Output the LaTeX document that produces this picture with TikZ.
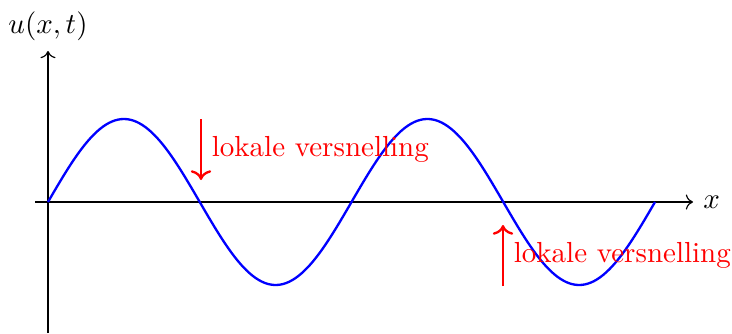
\documentclass[tikz,border=0pt]{standalone}
\usetikzlibrary{arrows.meta}
\begin{document}
\begin{tikzpicture}[x=0.3448pt,y=-0.3448pt,
  axis/.style={->},
  wave/.style={blue,thick},
  accel/.style={->,red,thick},
  lbl/.style={red,right}]
\useasboundingbox (0,0) rectangle (732,333);
\coordinate (xs) at (35,202);
\coordinate (xe) at (693,202);
\coordinate (ys) at (48,333);
\coordinate (ye) at (48,51);
\draw[axis] (xs) -- (xe) node[right] (xl) {$x$};
\draw[axis] (ys) -- (ye) node[above] (yl) {$u(x,t)$};
\draw[wave] plot[domain=48:655,samples=200,smooth] (\x,{202-83*sin(1.186161*(\x-48))});
\coordinate (a1s) at (201,119);
\coordinate (a1e) at (201,180);
\coordinate (a2s) at (503,286);
\coordinate (a2e) at (503,225);
\draw[accel] (a1s) -- (a1e) node[midway,lbl] (l1) {lokale versnelling};
\draw[accel] (a2s) -- (a2e) node[midway,lbl] (l2) {lokale versnelling};
\end{tikzpicture}
\end{document}
